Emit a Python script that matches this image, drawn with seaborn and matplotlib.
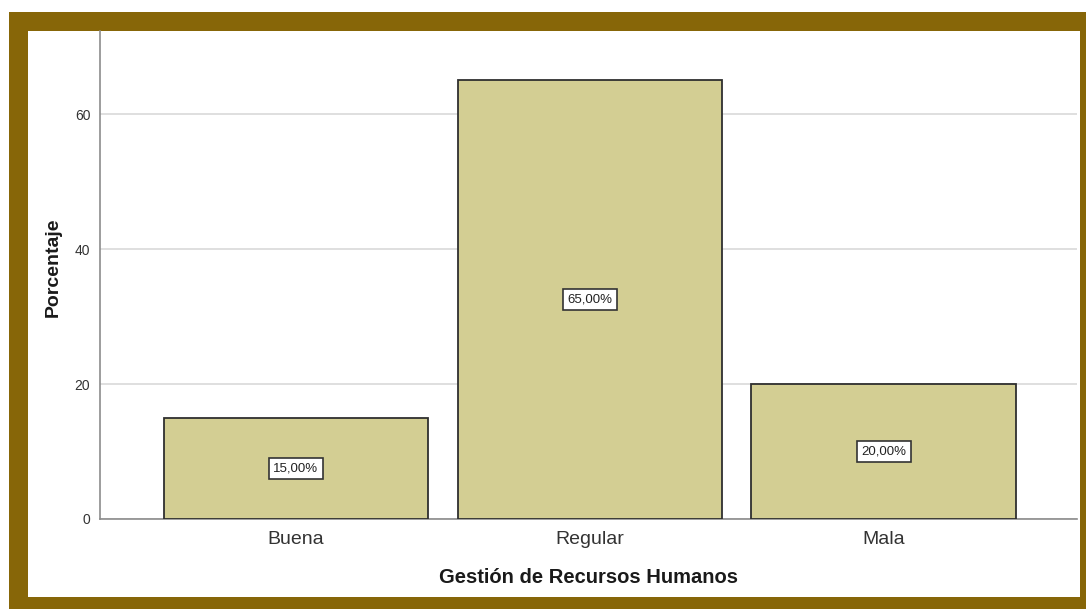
import matplotlib
matplotlib.use("Agg")
import matplotlib.pyplot as plt
from matplotlib.patches import Rectangle
import seaborn as sns
import pandas as pd

categories = ["Buena", "Regular", "Mala"]
values = [15.0, 65.0, 20.0]
labels = ["15,00%", "65,00%", "20,00%"]
yticks = [0, 20, 40, 60]

sns.set_theme(style="white")
plt.rcParams["font.family"] = ["Liberation Sans", "DejaVu Sans"]

W, H = 1086, 609
fig = plt.figure(figsize=(W / 100, H / 100), dpi=100)
fig.patch.set_facecolor("white")

# brown frame
fig.patches.append(Rectangle((9 / W, 0), (W - 9) / W, (H - 12) / H,
                             transform=fig.transFigure, facecolor="#876608",
                             edgecolor="none", zorder=-10))
fig.patches.append(Rectangle((28 / W, (H - 597) / H), (1080 - 28) / W, (597 - 31) / H,
                             transform=fig.transFigure, facecolor="white",
                             edgecolor="none", zorder=-9))

ax = fig.add_axes([100 / W, (H - 519) / H, 977 / W, (519 - 31) / H])
ax.set_zorder(1)
ax.set_facecolor("none")

df = pd.DataFrame({"cat": categories, "val": values})
sns.barplot(data=df, x="cat", y="val", ax=ax, color="#D3CE93", saturation=1,
            edgecolor="#2f2f2f", linewidth=1.3, width=0.9, zorder=3)

ax.set_xlim(-0.667, 2.658)
ax.set_ylim(0, 72.3)
ax.set_yticks(yticks)
ax.yaxis.grid(True, color="#d9d9d9", linewidth=1.2, zorder=0)
ax.set_axisbelow(True)

for i, (v, lab) in enumerate(zip(values, labels)):
    ax.text(i, v / 2, lab, ha="center", va="center", fontsize=9.5, color="#222222",
            zorder=5,
            bbox=dict(boxstyle="square,pad=0.35", facecolor="white",
                      edgecolor="#333333", linewidth=1.2))

for s in ["top", "right"]:
    ax.spines[s].set_visible(False)
for s in ["left", "bottom"]:
    ax.spines[s].set_color("#8c8c8c")
    ax.spines[s].set_linewidth(1.2)

ax.tick_params(axis="y", labelsize=10, colors="#333333", length=0, pad=7)
ax.tick_params(axis="x", labelsize=14, colors="#333333", length=0, pad=9)

ax.set_xlabel("Gestión de Recursos Humanos", fontsize=14.5, fontweight="bold",
              color="#1a1a1a", labelpad=14)
ax.set_ylabel("Porcentaje", fontsize=14, fontweight="bold", color="#1a1a1a")
ax.yaxis.set_label_coords(-0.039, 0.515)

fig.savefig("out.png", dpi=100)
